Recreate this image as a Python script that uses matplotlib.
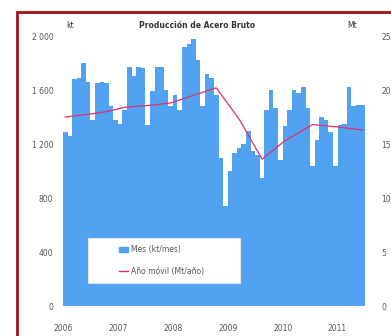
import matplotlib
matplotlib.use("Agg")
import matplotlib.pyplot as plt
import numpy as np
from matplotlib.patches import Rectangle
from matplotlib.lines import Line2D

# --- colours ---
C_BAR = "#52a2f2"
C_LINE = "#e0306a"
C_FRAME = "#a0101e"
C_TXT = "#555555"

# --- data (monthly crude steel production, Jan 2006 .. Jun 2011) ---
years = ["2006", "2007", "2008", "2009", "2010", "2011"]
monthly_kt = [
    1290, 1260, 1680, 1690, 1800, 1660, 1380, 1650, 1660, 1650, 1480, 1380,   # 2006
    1350, 1450, 1770, 1700, 1770, 1760, 1340, 1590, 1770, 1770, 1600, 1480,   # 2007
    1560, 1450, 1920, 1940, 1980, 1820, 1480, 1720, 1690, 1560, 1100, 740,    # 2008
    1000, 1130, 1170, 1200, 1300, 1150, 1120, 950, 1450, 1600, 1470, 1080,    # 2009
    1330, 1450, 1600, 1580, 1620, 1470, 1040, 1230, 1400, 1380, 1290, 1040,   # 2010
    1340, 1350, 1620, 1480, 1490, 1490,                                       # 2011
]
# rolling 12-month total (Mt), read at selected months
roll_month = [0, 6, 9, 13, 19, 23, 28, 33, 38, 43, 48, 54, 59, 65]
roll_mt = [17.5, 17.8, 18.0, 18.4, 18.6, 18.8, 19.5, 20.2, 17.3, 13.6, 15.3, 16.8, 16.6, 16.3]

fig = plt.figure(figsize=(3.91, 3.36), dpi=100, facecolor="white")
ax1 = fig.add_axes([63 / 391, 1 - 306 / 336, 302 / 391, 270 / 336])
ax1.set_facecolor("white")

ind = np.arange(len(monthly_kt))
ax1.bar(ind, monthly_kt, width=1.0, align="edge", color=C_BAR, linewidth=0, zorder=2)
ax1.set_xlim(0, len(monthly_kt))
ax1.set_ylim(0, 2000)
ax1.set_yticks([0, 400, 800, 1200, 1600, 2000])
ax1.set_yticklabels(["0", "400", "800", "1 200", "1 600", "2 000"])
ax1.set_xticks(np.arange(len(years)) * 12)
ax1.set_xticklabels(years)

ax2 = ax1.twinx()
ax2.plot(np.array(roll_month) + 0.5, roll_mt, color=C_LINE, linewidth=0.9, zorder=4)
ax2.set_ylim(0, 25)
ax2.set_yticks([0, 5, 10, 15, 20, 25])

for ax in (ax1, ax2):
    for s in ax.spines.values():
        s.set_visible(False)
    ax.tick_params(length=0, labelsize=5.5, colors=C_TXT)
ax1.tick_params(axis="y", pad=7)
ax2.tick_params(axis="y", pad=12)
ax1.tick_params(axis="x", pad=13)

# titles and units
fig.text(197 / 391, 1 - 25 / 336, "Producción de Acero Bruto", ha="center", va="center",
         fontsize=5.5, fontweight="bold", color="#333333")
fig.text(70 / 391, 1 - 25 / 336, "kt", ha="center", va="center", fontsize=5.5, color="#333333")
fig.text(352 / 391, 1 - 25 / 336, "Mt", ha="center", va="center", fontsize=5.5, color="#333333")

# legend box
box = Rectangle((88 / 391, 1 - 283 / 336), 152 / 391, 45 / 336, transform=fig.transFigure,
                facecolor="white", edgecolor="#e4e4e4", linewidth=0.8, zorder=5)
fig.patches.append(box)
handles = [
    Rectangle((0, 0), 1, 1, color=C_BAR, label="Mes (kt/mes)"),
    Line2D([], [], color=C_LINE, linewidth=1.0, label="Año móvil (Mt/año)"),
]
fig.legend(handles=handles, loc="upper left", bbox_to_anchor=(112 / 391, 1 - 238 / 336),
           frameon=False, fontsize=5.5, labelcolor="#555555", handlelength=1.2,
           handleheight=0.6, handletextpad=0.4, labelspacing=1.7)

# dark red frame around the chart
frame = Rectangle((17 / 391, -0.2), 1.2, 1.2 - 11.5 / 336, transform=fig.transFigure,
                  facecolor="none", edgecolor=C_FRAME, linewidth=2.0, zorder=10)
fig.patches.append(frame)

fig.savefig("out.png", dpi=100)
